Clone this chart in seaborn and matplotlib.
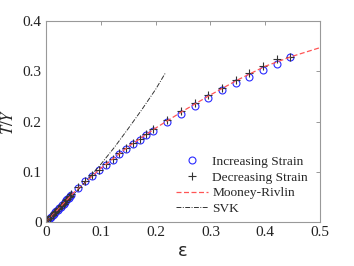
import numpy as np
import pandas as pd
import matplotlib
matplotlib.use("Agg")
import matplotlib.pyplot as plt
import seaborn as sns

# strain values (shared by both loading directions)
strain = [0.002, 0.004, 0.007, 0.009, 0.012, 0.014, 0.017, 0.019, 0.022, 0.024,
          0.027, 0.029, 0.032, 0.034, 0.037, 0.039, 0.042, 0.044, 0.046,
          0.058, 0.071, 0.084, 0.096, 0.109, 0.122, 0.134, 0.146, 0.159, 0.171,
          0.183, 0.196, 0.221, 0.246, 0.271, 0.296, 0.321, 0.346, 0.371, 0.396,
          0.421, 0.445]
stress_up = [0.003, 0.005, 0.008, 0.011, 0.014, 0.017, 0.020, 0.022, 0.025, 0.028,
             0.031, 0.034, 0.037, 0.040, 0.043, 0.045, 0.048, 0.051, 0.054,
             0.068, 0.081, 0.092, 0.103, 0.114, 0.124, 0.135, 0.145, 0.155, 0.164,
             0.174, 0.182, 0.200, 0.215, 0.231, 0.246, 0.263, 0.276, 0.289, 0.302,
             0.315, 0.329]
stress_down = [0.004, 0.006, 0.009, 0.012, 0.015, 0.018, 0.020, 0.023, 0.026, 0.029,
               0.032, 0.034, 0.037, 0.040, 0.043, 0.046, 0.049, 0.052, 0.055,
               0.069, 0.082, 0.093, 0.104, 0.116, 0.126, 0.137, 0.147, 0.157, 0.166,
               0.176, 0.185, 0.203, 0.221, 0.236, 0.252, 0.267, 0.282, 0.297, 0.311,
               0.324, 0.328]

# model curves
mr_strain = [0.0, 0.05, 0.1, 0.15, 0.2, 0.25, 0.3, 0.35, 0.4, 0.45, 0.5]
mr_stress = [0.0, 0.058, 0.107, 0.150, 0.187, 0.221, 0.253, 0.283, 0.310, 0.330, 0.347]
svk_strain = [0.0, 0.025, 0.05, 0.075, 0.1, 0.125, 0.15, 0.175, 0.2, 0.218]
svk_stress = [0.0, 0.026, 0.054, 0.084, 0.115, 0.149, 0.186, 0.224, 0.264, 0.297]

sns.set_style("white")
plt.rcParams['font.family'] = ['Liberation Serif', 'DejaVu Serif']
plt.rcParams['mathtext.fontset'] = 'stix'

fig = plt.figure(figsize=(3.54, 2.66), dpi=100)
ax = fig.add_axes([0.130, 0.165, 0.774, 0.756])

sns.lineplot(x=strain, y=stress_up, ax=ax, linestyle='none', marker='o',
             markersize=5, markerfacecolor='none', markeredgecolor='#2a2aff',
             markeredgewidth=0.8, sort=False, label='Increasing Strain')
sns.lineplot(x=strain, y=stress_down, ax=ax, linestyle='none', marker='+',
             markersize=5.5, color='#333333', markeredgecolor='#333333',
             markeredgewidth=0.8, sort=False, label='Decreasing Strain')
sns.lineplot(x=mr_strain, y=mr_stress, ax=ax, color='#ff5555', linestyle=(0, (4, 2)),
             linewidth=0.9, label='Mooney-Rivlin')
sns.lineplot(x=svk_strain, y=svk_stress, ax=ax, color='#333333',
             linestyle=(0, (5, 1.5, 1, 1.5)), linewidth=0.7, label='SVK')

ax.set_xlim(0, 0.5)
ax.set_ylim(0, 0.4)
ax.set_xticks([0, 0.1, 0.2, 0.3, 0.4, 0.5])
ax.set_xticklabels(['0', '0.1', '0.2', '0.3', '0.4', '0.5'])
ax.set_yticks([0, 0.1, 0.2, 0.3, 0.4])
ax.set_yticklabels(['0', '0.1', '0.2', '0.3', '0.4'])
ax.tick_params(direction='in', length=3, width=0.6, color='#888888',
               labelsize=11, labelcolor='#222222', top=True, right=True, pad=3)
for sp in ax.spines.values():
    sp.set_visible(True)
    sp.set_color('#999999')
    sp.set_linewidth(0.8)

ax.set_xlabel('ε', fontsize=13, family='DejaVu Sans', labelpad=2)
ax.set_ylabel('$T/Y$', fontsize=12, labelpad=4)

ax.legend(loc='lower right', frameon=False, fontsize=9.6, handlelength=2.4,
          handletextpad=0.3, labelspacing=0.25, borderaxespad=0.5,
          bbox_to_anchor=(1.0, -0.025))

fig.savefig('out.png', dpi=100)
